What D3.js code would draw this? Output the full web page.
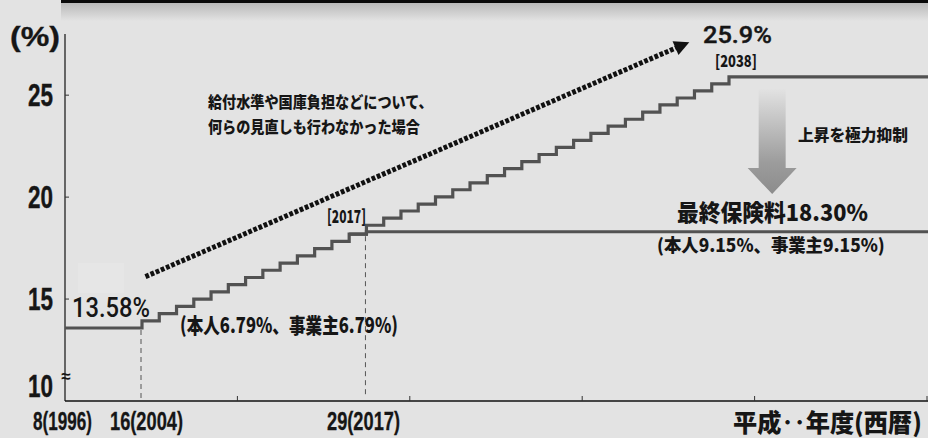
<!DOCTYPE html>
<html><head><meta charset="utf-8">
<script src="https://cdn.jsdelivr.net/npm/d3@7"></script>
<style>html,body{margin:0;padding:0;background:#e3e3e3;} svg{display:block}</style>
</head><body>
<svg id="c" width="928" height="438"></svg>
<script>
// ---- data ----
const yearsActual = [1996, 2004, 2005, 2006, 2007, 2008, 2009, 2010, 2011, 2012, 2013, 2014, 2015, 2016, 2017];
const rateActual  = [13.58, 13.934, 14.288, 14.642, 14.996, 15.350, 15.704, 16.058, 16.412, 16.766, 17.120, 17.474, 17.828, 18.182, 18.300];
const finalRate = 18.30;
const yearsNoReform = [2017, 2018, 2019, 2020, 2021, 2022, 2023, 2024, 2025, 2026, 2027, 2028, 2029, 2030, 2031, 2032, 2033, 2034, 2035, 2036, 2037, 2038];
const rateNoReform  = [18.62, 18.97, 19.32, 19.66, 20.01, 20.36, 20.70, 21.05, 21.40, 21.74, 22.09, 22.44, 22.78, 23.13, 23.48, 23.82, 24.17, 24.52, 24.86, 25.21, 25.55, 25.90];
const endYear = 2050;
const yTicks = [10, 15, 20, 25];
const xMarkYears = [2004, 2017];
const xLabels = [
  {text: "8(1996)", left: 33, w: 59},
  {text: "16(2004)", left: 110, w: 73},
  {text: "29(2017)", left: 327, w: 73}
];
const xDivisions = [1, 2, 3, 4, 5];
const trendArrow = {from: [2004.2, 16.1], to: [2035.7, 27.6]};
const downArrow = {year: 2040.5, top: 25.3, tip: 20.15};

// ---- scales ----
const svg = d3.select("#c");
const x = d3.scaleLinear().domain([1996, 2004, 2038]).range([65, 142, 729]);
const y = d3.scaleLinear().domain([10, 28]).range([401, 34]);
const div = d3.scaleLinear().domain([0, 5]).range([65, 927]);

const CJK = "'Noto Sans CJK JP', 'Noto Sans', sans-serif";
const LAT = "'Liberation Sans', Arial, sans-serif";
const ROB = "Roboto, 'Liberation Sans', sans-serif";
const INK = "#161616";
const LINE = "#525252";

const defs = svg.append("defs");
const sh = defs.append("linearGradient").attr("id", "shadow").attr("x1", 0).attr("x2", 0).attr("y1", 0).attr("y2", 1);
sh.append("stop").attr("offset", "0%").attr("stop-color", "#b9b9b9");
sh.append("stop").attr("offset", "100%").attr("stop-color", "#e3e3e3");
const ag = defs.append("linearGradient").attr("id", "arrowGrad").attr("x1", 0).attr("x2", 0).attr("y1", 0).attr("y2", 1);
ag.append("stop").attr("offset", "0%").attr("stop-color", "#e2e2e2");
ag.append("stop").attr("offset", "70%").attr("stop-color", "#9c9c9c");
ag.append("stop").attr("offset", "100%").attr("stop-color", "#8c8c8c");

svg.append("rect").attr("width", 928).attr("height", 438).attr("fill", "#e3e3e3");
// frame top with shadow
svg.append("rect").attr("x", 61).attr("y", 3).attr("width", 867).attr("height", 18).attr("fill", "url(#shadow)");
svg.append("rect").attr("x", 61).attr("y", 0).attr("width", 867).attr("height", 3).attr("fill", "#0a0a0a");
// faint box behind 13.58%
svg.append("rect").attr("x", 78).attr("y", 263).attr("width", 46).attr("height", 30).attr("fill", "#e6e6e6");

function txt(str, px, py, w, size, o = {}) {
  const t = svg.append("text")
    .attr("font-family", o.family || CJK)
    .attr("font-size", size)
    .attr("font-weight", o.weight || 900)
    .attr("fill", INK)
    .attr("text-anchor", o.anchor || "start")
    .text(str);
  if (o.stroke) t.attr("stroke", INK).attr("stroke-width", o.stroke);
  const len = t.node().getComputedTextLength();
  const sx = w ? w / len : 1;
  t.attr("transform", `translate(${px},${py}) scale(${sx},1)`);
  return t;
}

// axes
svg.append("line").attr("x1", x(1996)).attr("x2", x(1996)).attr("y1", y(28)).attr("y2", y(10))
  .attr("stroke", "#111").attr("stroke-width", 1.2);
svg.append("line").attr("x1", x(1996)).attr("x2", 928).attr("y1", y(10)).attr("y2", y(10))
  .attr("stroke", "#111").attr("stroke-width", 1.6);
yTicks.filter(d => d > 10).forEach(d => {
  svg.append("line").attr("x1", x(1996)).attr("x2", x(1996) + 4).attr("y1", y(d)).attr("y2", y(d))
    .attr("stroke", "#333").attr("stroke-width", 1);
});
xDivisions.forEach(d => {
  svg.append("line").attr("x1", div(d)).attr("x2", div(d)).attr("y1", y(10)).attr("y2", y(10) - 5)
    .attr("stroke", "#333").attr("stroke-width", 1);
});
yTicks.forEach(d => {
  txt(String(d), 53, y(d) + (d === 10 ? -4 : 11), 25, 31, {anchor: "end", family: LAT, weight: 700, stroke: 0.4});
});
txt("(%)", 10, 46, 50, 28, {family: LAT, weight: 700, stroke: 0.3});
svg.append("text").attr("x", 66).attr("y", 382).attr("text-anchor", "middle")
  .attr("font-family", LAT).attr("font-size", 17).attr("font-weight", 700).attr("fill", INK).text("≈");

xLabels.forEach(d => txt(d.text, d.left, 430, d.w, 25, {family: LAT, weight: 700, stroke: 0.3}));
txt("平成‥年度(西暦)", 733, 432, 189, 25);

// dashed verticals
xMarkYears.forEach(yr => {
  const i = yearsActual.indexOf(yr);
  const v = rateActual[i - 1];
  svg.append("line").attr("x1", x(yr) - 1).attr("x2", x(yr) - 1).attr("y1", y(v) + 2).attr("y2", y(10) - 3)
    .attr("stroke", "#555").attr("stroke-width", 1).attr("stroke-dasharray", "5,4");
});

// step lines
const step = d3.line().x(d => x(d[0])).y(d => y(d[1])).curve(d3.curveStepAfter);
const actualPts = yearsActual.map((yr, i) => [yr, rateActual[i]]).concat([[endYear, finalRate]]);
const noReformPts = [[2016, rateActual[rateActual.length - 2]]]
  .concat(yearsNoReform.map((yr, i) => [yr, rateNoReform[i]]))
  .concat([[endYear, rateNoReform[rateNoReform.length - 1]]]);
svg.append("path").attr("d", step(noReformPts)).attr("fill", "none").attr("stroke", LINE).attr("stroke-width", 3.2);
svg.append("path").attr("d", step(actualPts)).attr("fill", "none").attr("stroke", LINE).attr("stroke-width", 3.2);

// dotted trend arrow
{
  const x1 = x(trendArrow.from[0]), y1 = y(trendArrow.from[1]);
  const x2 = x(trendArrow.to[0]), y2 = y(trendArrow.to[1]);
  const ang = Math.atan2(y2 - y1, x2 - x1);
  const hl = 15, hw = 7.5;
  const bx = x2 - hl * Math.cos(ang), by = y2 - hl * Math.sin(ang);
  svg.append("line").attr("x1", x1).attr("y1", y1).attr("x2", bx + 2 * Math.cos(ang)).attr("y2", by + 2 * Math.sin(ang))
    .attr("stroke", "#111").attr("stroke-width", 5).attr("stroke-dasharray", "3.8,1.8");
  const px = -Math.sin(ang), py = Math.cos(ang);
  svg.append("path").attr("d", `M${x2},${y2}L${bx + hw * px},${by + hw * py}L${bx - hw * px},${by - hw * py}Z`).attr("fill", "#111");
}

// gradient down arrow
{
  const cx = x(downArrow.year), top = y(downArrow.top), tip = y(downArrow.tip);
  const headLen = 26, sw = 13.5, hw = 24.5;
  const hb = tip - headLen;
  svg.append("path")
    .attr("d", `M${cx - sw},${top}L${cx + sw},${top}L${cx + sw},${hb}L${cx + hw},${hb}L${cx},${tip}L${cx - hw},${hb}L${cx - sw},${hb}Z`)
    .attr("fill", "url(#arrowGrad)");
}

// annotations
txt("13.58%", 72, 317, 78, 27, {family: ROB, weight: 500});
txt("(本人6.79%、事業主6.79%)", 180, 333, 218, 21);
txt("[2017]", 327, 223, 39, 18);
txt("給付水準や国庫負担などについて、", 208, 108, 225, 16);
txt("何らの見直しも行わなかった場合", 208, 133, 212, 16);
txt("25.9%", 703, 43, 69, 23, {family: ROB, weight: 500, stroke: 0.4});
txt("[2038]", 715, 67, 42, 16);
txt("上昇を極力抑制", 798, 141, 110, 16);
txt("最終保険料18.30%", 677, 221, 191, 23);
txt("(本人9.15%、事業主9.15%)", 657, 252, 228, 18);
</script>
</body></html>
